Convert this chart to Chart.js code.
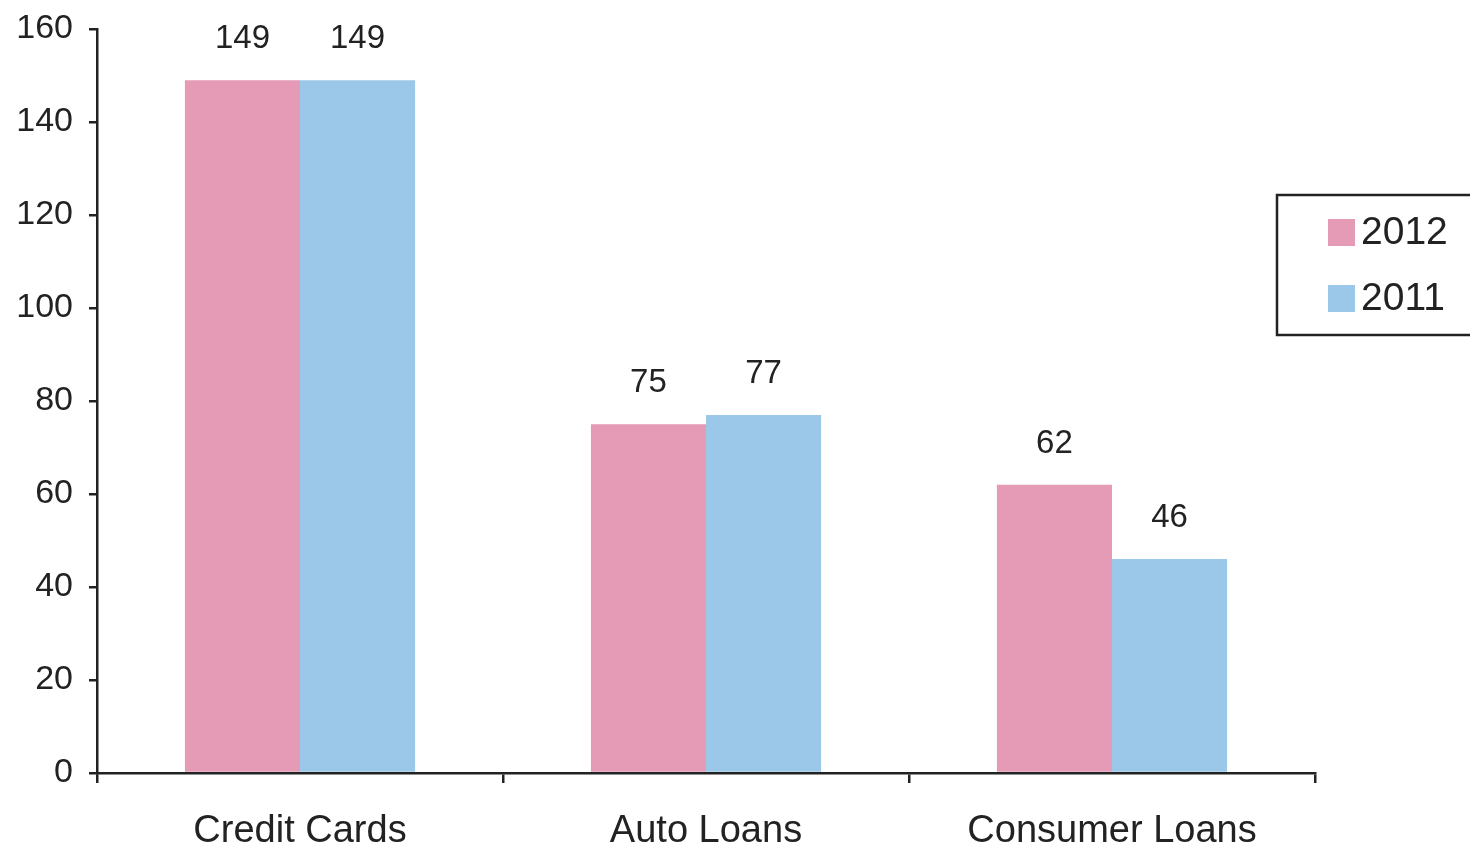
<!DOCTYPE html>
<html>
<head>
<meta charset="utf-8">
<style>
  html, body { margin: 0; padding: 0; background: #ffffff; }
  #wrap { width: 1470px; height: 851px; }
</style>
<script src="https://cdn.jsdelivr.net/npm/chart.js@4"></script>
</head>
<body>
<div id="wrap"><canvas id="chart" width="1470" height="851"></canvas></div>
<script>
const categories = ['Credit Cards', 'Auto Loans', 'Consumer Loans'];
const values2012 = [149, 75, 62];
const values2011 = [149, 77, 46];
const yTicks = [0, 20, 40, 60, 80, 100, 120, 140, 160];

const PINK = '#E59AB5';
const BLUE = '#9BC7E8';
const INK = '#222222';
const FONT = '"Liberation Sans", Arial, sans-serif';

// Value labels above each bar
const valueLabels = {
  id: 'valueLabels',
  afterDatasetsDraw(chart) {
    const ctx = chart.ctx;
    ctx.save();
    ctx.font = '33px ' + FONT;
    ctx.fillStyle = INK;
    ctx.textAlign = 'center';
    ctx.textBaseline = 'middle';
    chart.data.datasets.forEach((ds, i) => {
      chart.getDatasetMeta(i).data.forEach((bar, j) => {
        ctx.fillText(String(ds.data[j]), bar.x, bar.y - 41);
      });
    });
    ctx.restore();
  }
};

// Boxed legend on the right
const boxedLegend = {
  id: 'boxedLegend',
  afterDraw(chart) {
    const ctx = chart.ctx;
    ctx.save();
    ctx.strokeStyle = INK;
    ctx.lineWidth = 2.5;
    ctx.strokeRect(1277, 195, 200, 140);
    ctx.font = '39px ' + FONT;
    ctx.textAlign = 'left';
    ctx.textBaseline = 'middle';
    const rows = [232, 298];
    chart.data.datasets.forEach((ds, i) => {
      const y = rows[i];
      ctx.fillStyle = ds.backgroundColor;
      ctx.fillRect(1328, y - 13, 27, 27);
      ctx.fillStyle = INK;
      ctx.fillText(ds.label, 1361, y + 1);
    });
    ctx.restore();
  }
};

const chart = new Chart(document.getElementById('chart'), {
  type: 'bar',
  data: {
    labels: categories,
    datasets: [
      { label: '2012', data: values2012, backgroundColor: PINK, categoryPercentage: 0.567, barPercentage: 1 },
      { label: '2011', data: values2011, backgroundColor: BLUE, categoryPercentage: 0.567, barPercentage: 1 }
    ]
  },
  options: {
    responsive: false,
    animation: false,
    devicePixelRatio: 1,
    layout: { padding: { left: 0, right: 155, top: 29, bottom: 0 } },
    plugins: {
      legend: { display: false },
      tooltip: { enabled: false }
    },
    scales: {
      x: {
        grid: { offset: true, drawOnChartArea: false, drawTicks: true, tickLength: 10, color: INK, lineWidth: 2.5 },
        border: { color: INK, width: 2.5 },
        ticks: { color: INK, font: { family: FONT, size: 38 }, padding: 26, maxRotation: 0 },
        afterFit(scale) { scale.height = 78; }
      },
      y: {
        min: 0,
        max: 160,
        afterBuildTicks(scale) { scale.ticks = yTicks.map(v => ({ value: v })); },
        grid: { drawOnChartArea: false, drawTicks: true, tickLength: 8, color: INK, lineWidth: 2.5 },
        border: { color: INK, width: 2.5 },
        ticks: { color: INK, font: { family: FONT, size: 34, lineHeight: 0.5 }, padding: 16 },
        afterFit(scale) { scale.width = 97; }
      }
    }
  },
  plugins: [valueLabels, boxedLegend]
});
</script>
</body>
</html>
